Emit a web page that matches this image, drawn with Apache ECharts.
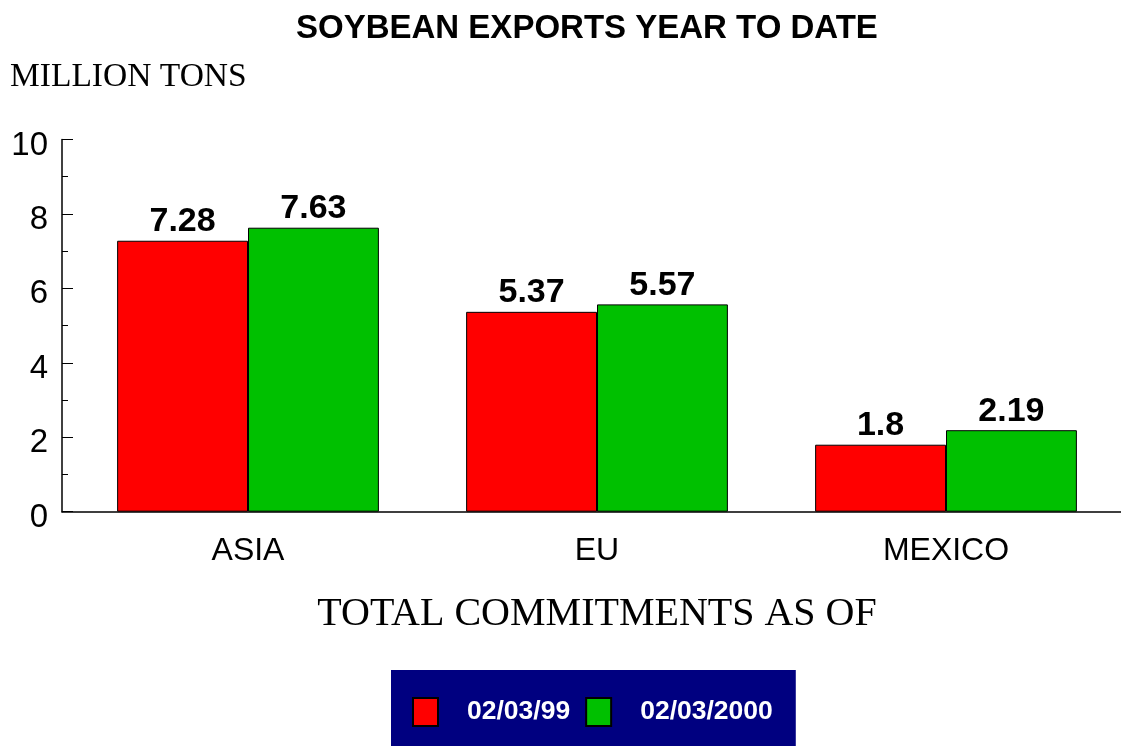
<!DOCTYPE html>
<html>
<head>
<meta charset="utf-8">
<script src="https://cdn.jsdelivr.net/npm/echarts@6/dist/echarts.min.js"></script>
<style>
html,body{margin:0;padding:0;background:#fff;}
#chart{width:1121px;height:746px;}
</style>
</head>
<body>
<div id="chart"></div>
<script>
var categories = ['ASIA', 'EU', 'MEXICO'];
var seriesNames = ['02/03/99', '02/03/2000'];
var values1999 = [7.28, 5.37, 1.8];
var values2000 = [7.63, 5.57, 2.19];
var yTicks = [0, 2, 4, 6, 8, 10];

var chart = echarts.init(document.getElementById('chart'));
var gridTop = 139.5, gridBottom = 234.3;
var labelStyle = {
  show: true, position: 'top', distance: 2,
  fontFamily: 'Liberation Sans, Arial, sans-serif', fontWeight: 'bold', fontSize: 34, color: '#000'
};
chart.setOption({
  animation: false,
  backgroundColor: '#fff',
  title: [
    {text: 'SOYBEAN EXPORTS YEAR TO DATE', left: 296, top: 12, padding: 0,
     textStyle: {fontFamily: 'Liberation Sans, Arial, sans-serif', fontWeight: 'bold', fontSize: 33, color: '#000'}},
    {text: 'MILLION TONS', left: 10, top: 60, padding: 0,
     textStyle: {fontFamily: 'Liberation Serif, Times New Roman, serif', fontWeight: 'normal', fontSize: 33.5, color: '#000'}}
  ],
  legend: {
    data: seriesNames,
    left: 391, top: 670,
    orient: 'horizontal',
    backgroundColor: '#000080',
    padding: [27, 23, 30, 21],
    itemWidth: 25, itemHeight: 28, itemGap: 15,
    icon: 'rect',
    textStyle: {color: '#fff', fontFamily: 'Liberation Sans, Arial, sans-serif', fontWeight: 'bold', fontSize: 26.5, padding: [0, 0, 0, 24]}
  },
  grid: [
    {left: 62, right: 0, top: gridTop, bottom: gridBottom},
    {left: 73.5, right: 0.5, top: gridTop, bottom: gridBottom}
  ],
  xAxis: [
    {gridIndex: 0, type: 'value', min: 0, max: 1,
     axisLine: {show: true, lineStyle: {color: '#000', width: 1.5}},
     axisTick: {show: false}, axisLabel: {show: false}, splitLine: {show: false}},
    {gridIndex: 1, type: 'category', data: categories,
     axisLine: {show: false}, axisTick: {show: false}, splitLine: {show: false},
     axisLabel: {margin: 23, color: '#000', fontFamily: 'Liberation Sans, Arial, sans-serif', fontSize: 32},
     name: 'TOTAL COMMITMENTS AS OF', nameLocation: 'middle', nameGap: 83,
     nameTextStyle: {color: '#000', fontFamily: 'Liberation Serif, Times New Roman, serif', fontSize: 40}}
  ],
  yAxis: [
    {gridIndex: 0, type: 'value', min: 0, max: 10, interval: 2,
     axisLine: {show: true, lineStyle: {color: '#000', width: 1.5}},
     axisTick: {show: true, inside: true, length: 11, lineStyle: {color: '#000', width: 1}},
     minorTick: {show: true, splitNumber: 2, length: 6, lineStyle: {color: '#000', width: 1}},
     splitLine: {show: false},
     axisLabel: {margin: 14, color: '#000', fontFamily: 'Liberation Sans, Arial, sans-serif', fontSize: 33,
       formatter: function (v) { return yTicks.indexOf(v) >= 0 ? '{t|' + v + '}' : ''; },
       rich: {t: {padding: [12, 0, 0, 0], color: '#000', fontFamily: 'Liberation Sans, Arial, sans-serif', fontSize: 33}}}},
    {gridIndex: 1, type: 'value', min: 0, max: 10, interval: 2, show: false, splitLine: {show: false}}
  ],
  series: [
    {name: seriesNames[0], type: 'bar', xAxisIndex: 1, yAxisIndex: 1, data: values1999,
     barGap: '0%', barCategoryGap: '25%',
     itemStyle: {color: '#ff0000', borderColor: '#000', borderWidth: 1},
     label: labelStyle},
    {name: seriesNames[1], type: 'bar', xAxisIndex: 1, yAxisIndex: 1, data: values2000,
     barGap: '0%', barCategoryGap: '25%',
     itemStyle: {color: '#00c000', borderColor: '#000', borderWidth: 1},
     label: labelStyle}
  ]
});
</script>
</body>
</html>
